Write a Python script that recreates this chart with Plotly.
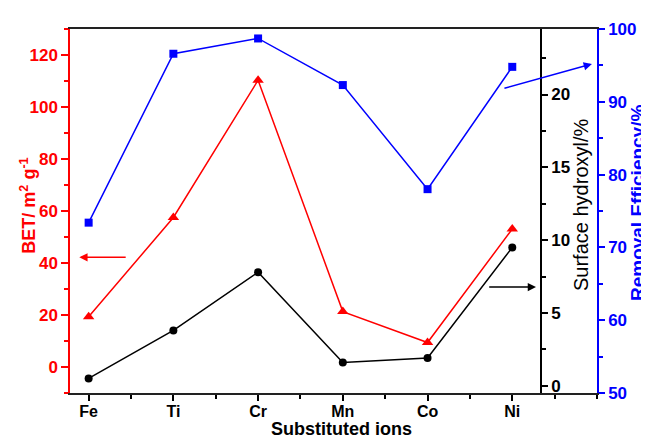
import plotly.graph_objects as go

ions = ["Fe", "Ti", "Cr", "Mn", "Co", "Ni"]
bet = [19.3, 57.5, 110.3, 21.3, 9.4, 53.1]
hydroxyl = [0.5, 3.8, 7.8, 1.6, 1.9, 9.5]
removal = [73.4, 96.6, 98.7, 92.3, 78.0, 94.8]
xpos = list(range(len(ions)))

RED = "#ff0000"
BLUE = "#0000ff"
BLACK = "#000000"
FAM = "Liberation Sans, Arial, sans-serif"

fig = go.Figure()
fig.add_trace(go.Scatter(x=xpos, y=bet, mode="lines+markers", yaxis="y",
                         line=dict(color=RED, width=1.5),
                         marker=dict(symbol="triangle-up", size=10, color=RED)))
fig.add_trace(go.Scatter(x=xpos, y=hydroxyl, mode="lines+markers", yaxis="y2",
                         line=dict(color=BLACK, width=1.5),
                         marker=dict(symbol="circle", size=8, color=BLACK)))
fig.add_trace(go.Scatter(x=xpos, y=removal, mode="lines+markers", yaxis="y3",
                         line=dict(color=BLUE, width=1.5),
                         marker=dict(symbol="square", size=8, color=BLUE)))


def tf(color, size=17):
    return dict(family=FAM, size=size, color=color, weight="bold")


# page body has an 8px margin; size the figure so the plot lands where it should
fig.update_layout(
    width=641, height=431,
    margin=dict(l=62, r=51, t=16, b=46),
    paper_bgcolor="white", plot_bgcolor="white",
    showlegend=False,
    xaxis=dict(range=[-0.22, 6.0], tickmode="array", tickvals=xpos, ticktext=ions,
               ticks="outside", ticklen=6, tickwidth=1.5, tickcolor=BLACK,
               ticklabelstandoff=-3,
               showline=True, linecolor="#222222", linewidth=1.5, mirror=True,
               showgrid=False, zeroline=False, tickfont=tf(BLACK, 16),
               minor=dict(tickmode="linear", tick0=0, dtick=0.5, ticks="outside",
                          ticklen=4, tickwidth=1.5, tickcolor=BLACK, showgrid=False)),
    yaxis=dict(range=[-10, 130], tickmode="linear", tick0=0, dtick=20,
               ticks="outside", ticklen=7, tickwidth=1.5, tickcolor=RED,
               showline=True, linecolor=RED, linewidth=1.5,
               showgrid=False, zeroline=False, tickfont=tf(RED),
               minor=dict(tickmode="linear", tick0=0, dtick=10, ticks="outside",
                          ticklen=4, tickwidth=1.5, tickcolor=RED, showgrid=False)),
    yaxis2=dict(range=[-0.5, 24.5], overlaying="y", anchor="free", position=0.894,
                side="right", tickmode="linear", tick0=0, dtick=5,
                ticks="outside", ticklen=6, tickwidth=1.5, tickcolor=BLACK,
                showline=True, linecolor=BLACK, linewidth=1.5,
                showgrid=False, zeroline=False, tickfont=tf(BLACK),
                minor=dict(tickmode="linear", tick0=0, dtick=2.5, ticks="outside",
                           ticklen=4, tickwidth=1.5, tickcolor=BLACK, showgrid=False)),
    yaxis3=dict(range=[50, 100], overlaying="y", anchor="x", side="right",
                tickmode="linear", tick0=50, dtick=10,
                ticks="outside", ticklen=6, tickwidth=1.5, tickcolor=BLUE,
                showline=True, linecolor=BLUE, linewidth=1.5,
                showgrid=False, zeroline=False, tickfont=tf(BLUE),
                minor=dict(tickmode="linear", tick0=50, dtick=5, ticks="outside",
                           ticklen=4, tickwidth=1.5, tickcolor=BLUE, showgrid=False)),
)

# Axis titles
fig.add_annotation(text="BET/ m<sup>2</sup> g<sup>-1</sup>", xref="paper", yref="paper",
                   x=-0.0795, y=0.515, textangle=-90, showarrow=False,
                   font=tf(RED, 18), xanchor="center", yanchor="middle")
fig.add_annotation(text="Surface hydroxyl/%", xref="paper", yref="paper",
                   x=0.970, y=0.517, textangle=-90, showarrow=False,
                   font=dict(family=FAM, size=20, color=BLACK),
                   xanchor="center", yanchor="middle")
fig.add_annotation(text="Removal Efficiency/%", xref="paper", yref="paper",
                   x=1.0767, y=0.523, textangle=-90, showarrow=False,
                   font=tf(BLUE, 19), xanchor="center", yanchor="middle")
fig.add_annotation(text="Substituted ions", xref="paper", yref="paper",
                   x=0.515, y=-0.1, showarrow=False, font=tf(BLACK, 18),
                   xanchor="center", yanchor="middle")

# Arrows pointing at each series' axis
fig.add_annotation(x=-0.11, y=42.2, ax=0.455, ay=42.2, xref="x", yref="y",
                   axref="x", ayref="y", text="", showarrow=True,
                   arrowhead=2, arrowsize=1.1, arrowwidth=1.5, arrowcolor=RED)
fig.add_annotation(x=5.28, y=6.78, ax=4.71, ay=6.78, xref="x", yref="y2",
                   axref="x", ayref="y2", text="", showarrow=True,
                   arrowhead=2, arrowsize=1.1, arrowwidth=1.5, arrowcolor=BLACK)
fig.add_annotation(x=5.94, y=95.2, ax=4.89, ay=91.8, xref="x", yref="y3",
                   axref="x", ayref="y3", text="", showarrow=True,
                   arrowhead=2, arrowsize=1.1, arrowwidth=1.5, arrowcolor=BLUE)

fig.write_html("out.html")
